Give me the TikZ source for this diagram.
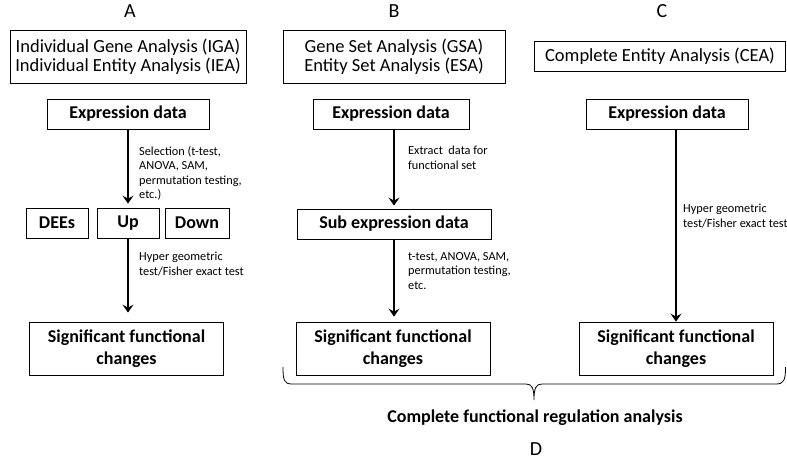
\documentclass[tikz,border=0pt]{standalone}
\usepackage{fontspec}
\setmainfont{Carlito}
\usetikzlibrary{arrows.meta}
\begin{document}
\begin{tikzpicture}[x=1pt, y=-1pt,
	box/.style = {draw, line width=0.8pt, inner sep=0pt, align=center, minimum height=30pt, font=\fontsize{18.5}{18.5}\selectfont},
	hdbox/.style = {box, minimum height=53pt},
	databox/.style = {box, font=\bfseries\fontsize{18}{19}\selectfont},
	sigbox/.style = {box, minimum width=194pt, minimum height=53pt, font=\bfseries\fontsize{18}{22}\selectfont},
	panel/.style = {inner sep=0pt, font=\fontsize{20}{20}\selectfont},
	note/.style = {anchor=north west, align=left, inner sep=0pt, font=\fontsize{12.3}{14.5}\selectfont},
	flow/.style = {-{Stealth[length=8pt, width=11pt, inset=3pt]}, line width=1.8pt}
]
	\useasboundingbox (0,0) rectangle (787,461);
	% panel letters
	\node[panel] (pA) at (130,11) {A};
	\node[panel] (pB) at (394,11) {B};
	\node[panel] (pC) at (662,11) {C};
	\node[panel] (pD) at (536,449) {D};
	% method headings
	\node[hdbox, minimum width=236pt] (iga) at (128,56.5) {Individual Gene Analysis (IGA)\\Individual Entity Analysis (IEA)};
	\node[hdbox, minimum width=222pt] (gsa) at (394,56.5) {Gene Set Analysis (GSA)\\Entity Set Analysis (ESA)};
	\node[box, minimum width=251pt] (cea) at (660,56) {Complete Entity Analysis (CEA)};
	% data boxes
	\node[databox, minimum width=162pt] (exprA) at (128,114) {Expression data};
	\node[databox, minimum width=156pt] (exprB) at (391,114) {Expression data};
	\node[databox, minimum width=162pt] (exprC) at (667,114) {Expression data};
	\node[databox, minimum width=62pt] (dees) at (57,223) {DEEs};
	\node[databox, minimum width=62pt] (up) at (128,223) {Up};
	\node[databox, minimum width=64pt] (down) at (197,223) {Down};
	\node[databox, minimum width=194pt] (subB) at (394,224) {Sub expression data};
	\node[sigbox] (sigA) at (126.5,348.5) {Significant functional\\changes};
	\node[sigbox] (sigB) at (393,348.5) {Significant functional\\changes};
	\node[sigbox] (sigC) at (676,348.5) {Significant functional\\changes};
	% arrows
	\draw[flow, shorten >=4pt] (exprA) -- (up);
	\draw[flow, shorten >=9pt] (up.south) -- (up.south |- sigA.north);
	\draw[flow, shorten >=3pt] (subB.north |- exprB.south) -- (subB.north);
	\draw[flow, shorten >=5pt] (subB.south) -- (subB.south |- sigB.north);
	\draw[flow] (sigC.north |- exprC.south) -- (sigC.north);
	% arrow notes
	\node[note] (selA) at (139,146) {Selection (t-test,\\ANOVA, SAM,\\permutation testing,\\etc.)};
	\node[note] (hypA) at (139,252) {Hyper geometric\\test/Fisher exact test};
	\node[note] (extB) at (408,146) {Extract\ \ data for\\functional set};
	\node[note] (tB) at (408,252) {t-test, ANOVA, SAM,\\permutation testing,\\etc.};
	\node[note] (hypC) at (683,204) {Hyper geometric\\test/Fisher exact test};
	% brace under B and C
	\draw[line width=0.8pt] (283,367) .. controls (283,380) and (284,384) .. (292,384) -- (526,384)
		.. controls (532,384) and (534,388) .. (534,400)
		.. controls (534,388) and (536,384) .. (542,384) -- (776,384)
		.. controls (784,384) and (785.5,380) .. (785.5,367);
	\node[font=\bfseries\fontsize{18}{19}\selectfont] (cfra) at (535,418) {Complete functional regulation analysis};
\end{tikzpicture}
\end{document}
